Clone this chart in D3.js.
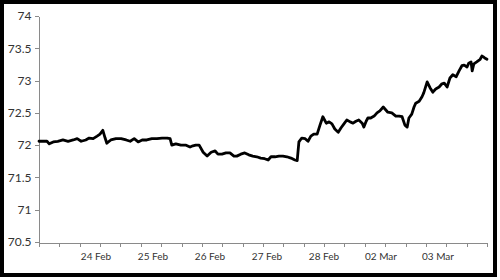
<!DOCTYPE html>
<html>
<head>
<meta charset="utf-8">
<script src="https://cdn.jsdelivr.net/npm/d3@7"></script>
<style>
    html, body { margin: 0; padding: 0; background: #fff; }
    .axis path, .axis line { stroke: #8a8a8a; shape-rendering: crispEdges; }
    .axis text { fill: #333; font-family: Lato, "Open Sans", sans-serif; }
</style>
</head>
<body>
<div class="chart"></div>
<script>
// trading days since 23 Feb 00:00 (weekend 29 Feb / 01 Mar skipped)
var times = [
    0.00, 0.07, 0.14, 0.18, 0.25, 0.33, 0.42, 0.51, 0.60, 0.67,
    0.74, 0.82, 0.88, 0.95, 1.02, 1.07, 1.12, 1.16, 1.19, 1.26,
    1.35, 1.44, 1.53, 1.60, 1.67, 1.74, 1.81, 1.89, 1.98, 2.07,
    2.16, 2.25, 2.30, 2.33, 2.40, 2.49, 2.58, 2.65, 2.70, 2.75,
    2.81, 2.88, 2.95, 3.02, 3.09, 3.14, 3.21, 3.28, 3.35, 3.42,
    3.47, 3.54, 3.61, 3.68, 3.75, 3.82, 3.89, 3.96, 4.02, 4.07,
    4.14, 4.21, 4.28, 4.35, 4.42, 4.49, 4.53, 4.56, 4.61, 4.67,
    4.72, 4.77, 4.82, 4.88, 4.93, 4.98, 5.04, 5.09, 5.14, 5.19,
    5.25, 5.30, 5.35, 5.40, 5.46, 5.51, 5.56, 5.61, 5.67, 5.70,
    5.74, 5.77, 5.82, 5.88, 5.93, 5.98, 6.04, 6.07, 6.12, 6.19,
    6.26, 6.32, 6.37, 6.42, 6.46, 6.49, 6.54, 6.58, 6.61, 6.67,
    6.72, 6.75, 6.81, 6.86, 6.91, 6.96, 7.02, 7.07, 7.11, 7.16,
    7.21, 7.26, 7.32, 7.37, 7.42, 7.46, 7.51, 7.54, 7.58, 7.60,
    7.63, 7.68, 7.74, 7.77, 7.79, 7.82, 7.86
];

var rates = [
    72.06, 72.06, 72.06, 72.02, 72.05, 72.06, 72.08, 72.06, 72.08, 72.10,
    72.06, 72.08, 72.11, 72.10, 72.14, 72.17, 72.23, 72.11, 72.03, 72.08,
    72.10, 72.10, 72.08, 72.06, 72.10, 72.05, 72.08, 72.08, 72.10, 72.10,
    72.11, 72.11, 72.10, 72.00, 72.02, 72.00, 72.00, 71.97, 71.99, 72.00,
    72.00, 71.89, 71.83, 71.89, 71.91, 71.86, 71.86, 71.88, 71.88, 71.83,
    71.83, 71.86, 71.88, 71.85, 71.83, 71.82, 71.80, 71.79, 71.77, 71.82,
    71.82, 71.83, 71.83, 71.82, 71.80, 71.77, 71.76, 72.05, 72.11, 72.10,
    72.06, 72.14, 72.17, 72.17, 72.31, 72.44, 72.34, 72.36, 72.33, 72.25,
    72.20, 72.27, 72.33, 72.39, 72.36, 72.34, 72.37, 72.39, 72.34, 72.28,
    72.37, 72.42, 72.42, 72.45, 72.50, 72.53, 72.59, 72.56, 72.51, 72.50,
    72.45, 72.45, 72.44, 72.31, 72.28, 72.42, 72.48, 72.59, 72.65, 72.68,
    72.75, 72.81, 72.98, 72.89, 72.82, 72.87, 72.90, 72.95, 72.96, 72.90,
    73.04, 73.09, 73.06, 73.15, 73.23, 73.24, 73.21, 73.27, 73.29, 73.15,
    73.26, 73.29, 73.33, 73.38, 73.37, 73.35, 73.33
];

var yTicks = [70.5, 71, 71.5, 72, 72.5, 73, 73.5, 74];
var dayLabels = ['24 Feb', '25 Feb', '26 Feb', '27 Feb', '28 Feb', '02 Mar', '03 Mar'];
var dayPositions = [1, 2, 3, 4, 5, 6, 7];

(function () {
    "use strict";

    var config = {
        selector: '.chart',
        width: 500,
        height: 280,
        margin: { top: 16, right: 13, bottom: 38, left: 39 },
        xDomain: [0, 7.86],
        minorTicks: 22
    };

    function drawGraph() {
        var margin = config.margin;
        var width = config.width;
        var height = config.height;

        var svg = d3.select(config.selector).append('svg')
            .attr('width', width)
            .attr('height', height);

        svg.append('rect')
            .attr('x', 2).attr('y', 2)
            .attr('width', 493).attr('height', 273)
            .attr('fill', '#fff')
            .attr('stroke', '#000')
            .attr('stroke-width', 4);

        var x = d3.scaleLinear()
            .domain(config.xDomain)
            .range([margin.left, width - margin.right]);

        var y = d3.scaleLinear()
            .domain([70.5, 74])
            .range([height - margin.bottom, margin.top]);

        var data = times.map(function (t, i) {
            return { t: t, v: rates[i] };
        });

        var yAxis = d3.axisLeft(y)
            .tickValues(yTicks)
            .tickFormat(function (d) { return String(d); })
            .tickSize(4)
            .tickSizeOuter(0)
            .tickPadding(3);

        svg.append('g')
            .attr('class', 'y axis')
            .attr('transform', 'translate(' + (margin.left - 0.5) + ',0)')
            .call(yAxis)
            .selectAll('text')
            .style('font-size', '12px');

        var step = config.xDomain[1] / config.minorTicks;
        var xAxis = d3.axisBottom(x)
            .tickValues(d3.range(config.minorTicks + 1).map(function (i) { return i * step; }))
            .tickFormat('')
            .tickSize(4)
            .tickSizeOuter(0);

        var xg = svg.append('g')
            .attr('class', 'x axis')
            .attr('transform', 'translate(0,' + (height - margin.bottom + 0.5) + ')')
            .call(xAxis);

        xg.selectAll('.day-label')
            .data(dayPositions)
            .enter().append('text')
            .attr('class', 'day-label')
            .attr('x', function (d) { return x(d); })
            .attr('y', 17)
            .attr('text-anchor', 'middle')
            .style('font-size', '10px')
            .text(function (d, i) { return dayLabels[i]; });

        var line = d3.line()
            .x(function (d) { return x(d.t); })
            .y(function (d) { return y(d.v); });

        svg.append('path')
            .datum(data)
            .attr('fill', 'none')
            .attr('stroke', '#000')
            .attr('stroke-width', 2.8)
            .attr('stroke-linejoin', 'round')
            .attr('stroke-linecap', 'round')
            .attr('d', line);
    }

    drawGraph();
})();
</script>
</body>
</html>
